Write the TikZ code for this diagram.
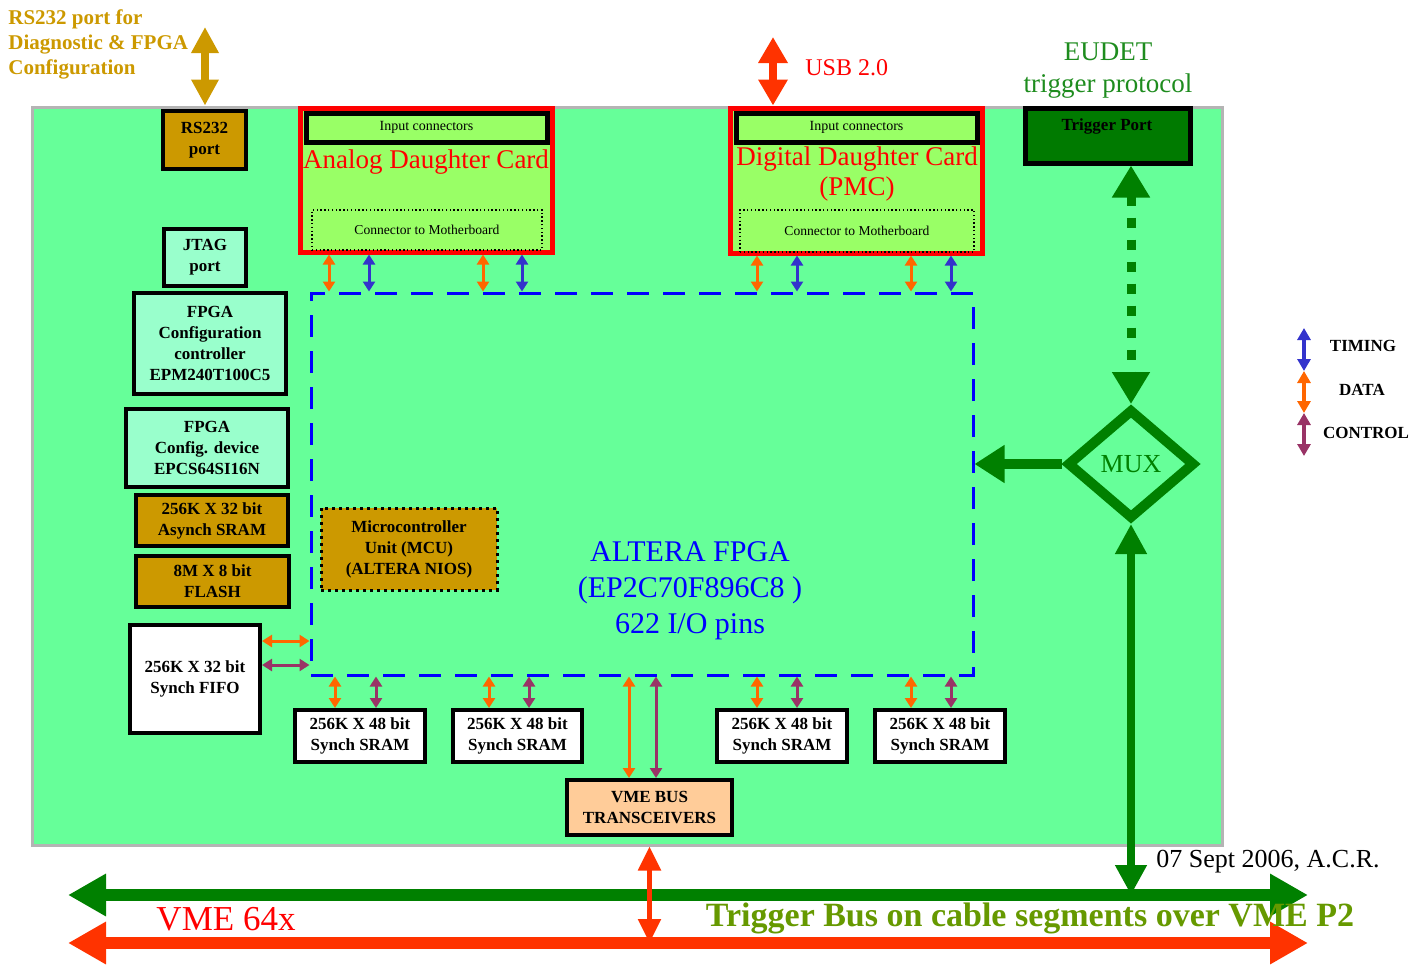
\documentclass[tikz,border=0pt]{standalone}
\usepackage{fontspec}
\setmainfont{Liberation Serif}
\usetikzlibrary{arrows.meta}
\usetikzlibrary{positioning, fit, calc}
\usetikzlibrary{shapes.geometric}

\definecolor{boardgreen}{HTML}{66FF99}
\definecolor{boardedge}{HTML}{B4B4B4}
\definecolor{cardgreen}{HTML}{99FF66}
\definecolor{aqua}{HTML}{99FFCC}
\definecolor{gold}{HTML}{CC9900}
\definecolor{peach}{HTML}{FFCC99}
\definecolor{darkgreen}{HTML}{008000}
\definecolor{trigfill}{HTML}{007A00}
\definecolor{eudetgreen}{HTML}{1E8C1E}
\definecolor{trigolive}{HTML}{669900}
\definecolor{busred}{HTML}{FF3300}
\definecolor{dataorange}{HTML}{FF6600}
\definecolor{ctrlpurple}{HTML}{993366}
\definecolor{timeblue}{HTML}{3333CC}
\definecolor{fpgablue}{HTML}{0000FF}

\begin{document}
\begin{tikzpicture}[x=0.5pt, y=-0.5pt,
    box/.style={draw=black, line width=2pt, inner sep=0pt, align=center,
      font=\bfseries\fontsize{8.5}{10.5}\selectfont},
    aquabox/.style={box, fill=aqua},
    goldbox/.style={box, fill=gold},
    whitebox/.style={box, fill=white},
    card/.style={draw=red, line width=2.5pt, fill=cardgreen, inner sep=0pt},
    inbox/.style={draw=black, line width=2.5pt, fill=cardgreen, inner sep=0pt,
      font=\fontsize{7}{8}\selectfont},
    conbox/.style={draw=black, line width=0.7pt, dash pattern=on 0.7pt off 1.2pt,
      inner sep=0pt, font=\fontsize{6.8}{8}\selectfont},
    cardtitle/.style={text=red, align=center, font=\fontsize{13.5}{15}\selectfont},
    sig/.style={line width=1.5pt,
      {Triangle[length=5pt,width=6pt]}-{Triangle[length=5pt,width=6pt]}},
    datasig/.style={sig, draw=dataorange},
    timesig/.style={sig, draw=timeblue},
    ctrlsig/.style={sig, draw=ctrlpurple},
    rsarr/.style={line width=4pt, draw=gold,
      {Triangle[length=13pt,width=13pt]}-{Triangle[length=13pt,width=13pt]}},
    usbarr/.style={line width=4pt, draw=busred,
      {Triangle[length=13pt,width=14pt]}-{Triangle[length=13pt,width=14pt]}},
    dotarr/.style={line width=4.5pt, draw=darkgreen, dash pattern=on 5pt off 6pt,
      {Triangle[length=16pt,width=18pt]}-{Triangle[length=16pt,width=18pt]}},
    muxarr/.style={line width=5pt, draw=darkgreen, -{Triangle[length=15pt,width=18pt]}},
    vertarr/.style={line width=4pt, draw=darkgreen,
      {Triangle[length=15pt,width=15pt]}-{Triangle[length=15pt,width=15pt]}},
    busarr/.style={line width=6pt,
      {Triangle[length=19pt,width=20pt]}-{Triangle[length=19pt,width=20pt]}},
    vmearr/.style={line width=2.5pt, draw=busred,
      {Triangle[length=12pt,width=11pt]}-{Triangle[length=12pt,width=11pt]}},
    legarr/.style={line width=2pt,
      {Triangle[length=6pt,width=6.5pt]}-{Triangle[length=6pt,width=6.5pt]}},
    legtxt/.style={font=\bfseries\fontsize{8.5}{10}\selectfont}]
  \useasboundingbox (0,0) rectangle (1421,965);

  % BOARD
  \node[draw=boardedge, line width=1.5pt, fill=boardgreen, inner sep=0pt,
    fit={(32,107) (1222,845)}] (board) {};

  % DAUGHTER CARDS
  \node[card, fit={(300,108) (552,252)}] (adc) {};
  \node[inbox, minimum width=120.5pt, minimum height=14.5pt] (adcin) at (426.5,127.5) {Input connectors};
  \node[cardtitle] (adctitle) at (426,162) {Analog Daughter Card};
  \node[conbox, minimum width=115pt, minimum height=20pt] (adccon) at (427,230) {Connector to Motherboard};

  \node[card, fit={(730,108) (982,253)}] (ddc) {};
  \node[inbox, minimum width=120.5pt, minimum height=14.5pt] (ddcin) at (856.5,127.5) {Input connectors};
  \node[cardtitle] (ddctitle) at (857,174) {Digital Daughter Card\\(PMC)};
  \node[conbox, minimum width=117pt, minimum height=21pt] (ddccon) at (857,231) {Connector to Motherboard};

  % LEFT COLUMN
  \node[goldbox, minimum width=41.5pt, minimum height=29pt] (rs) at (204.5,140) {RS232\\port};
  \node[aquabox, minimum width=41pt, minimum height=28.5pt] (jtag) at (205,257.5) {JTAG\\port};
  \node[aquabox, minimum width=76pt, minimum height=50.5pt] (cfgctl) at (210,343.5)
    {FPGA\\Configuration\\controller\\EPM240T100C5};
  \node[aquabox, minimum width=81pt, minimum height=39pt] (cfgdev) at (207,448)
    {FPGA\\Config. device\\EPCS64SI16N};
  \node[goldbox, minimum width=76pt, minimum height=25.5pt] (asram) at (212,520.5) {256K X 32 bit\\Asynch SRAM};
  \node[goldbox, minimum width=76.5pt, minimum height=25.5pt] (flash) at (212.5,581.5) {8M X 8 bit\\FLASH};
  \node[whitebox, minimum width=65pt, minimum height=54pt] (fifo) at (195,679) {256K X 32 bit\\Synch FIFO};

  % FPGA
  \node[draw=fpgablue, line width=1.5pt, dash pattern=on 11pt off 7pt, inner sep=0pt,
    fit={(311,293) (973,675)}] (fpga) {};
  \node[text=fpgablue, align=center, font=\fontsize{15}{18}\selectfont] (fpgatxt)
    at (690,591) {ALTERA FPGA\\(EP2C70F896C8 )\\622 I/O pins};
  \node[goldbox, line width=1.5pt, dash pattern=on 1.5pt off 2pt,
    minimum width=88pt, minimum height=41pt] (mcu) at (409,549) {Microcontroller\\Unit (MCU)\\(ALTERA NIOS)};

  % MEMORIES
  \node[whitebox, minimum width=65pt, minimum height=26pt] (sa) at (360,736) {256K X 48 bit\\Synch SRAM};
  \node[whitebox, minimum width=64.5pt, minimum height=26pt] (sb) at (517.5,736) {256K X 48 bit\\Synch SRAM};
  \node[whitebox, minimum width=65pt, minimum height=26pt] (sc) at (782,736) {256K X 48 bit\\Synch SRAM};
  \node[whitebox, minimum width=65pt, minimum height=26pt] (sd) at (940,736) {256K X 48 bit\\Synch SRAM};
  \node[box, fill=peach, minimum width=82.5pt, minimum height=27.5pt] (vme) at (649.5,807.5) {VME BUS\\TRANSCEIVERS};

  % TRIGGER
  \node[draw=black, line width=2.5pt, fill=trigfill, inner sep=0pt,
    fit={(1025,108) (1190,163)}] (trig) {};
  \node[font=\bfseries\fontsize{8.5}{10}\selectfont] (trigtxt) at (1107,126) {Trigger Port};
  \node[diamond, draw=darkgreen, line width=5pt, minimum width=64pt, minimum height=55pt,
    inner sep=0pt, text=darkgreen, font=\fontsize{13}{15}\selectfont] (mux) at (1131,464) {MUX};

  % SIGNALS
  \draw[datasig] (adc.south -| 329,0) -- (fpga.north -| 329,0);
  \draw[timesig] (adc.south -| 369,0) -- (fpga.north -| 369,0);
  \draw[datasig] (adc.south -| 483,0) -- (fpga.north -| 483,0);
  \draw[timesig] (adc.south -| 522,0) -- (fpga.north -| 522,0);
  \draw[datasig] (ddc.south -| 757,0) -- (fpga.north -| 757,0);
  \draw[timesig] (ddc.south -| 797,0) -- (fpga.north -| 797,0);
  \draw[datasig] (ddc.south -| 911,0) -- (fpga.north -| 911,0);
  \draw[timesig] (ddc.south -| 951,0) -- (fpga.north -| 951,0);

  \draw[datasig] (fifo.east |- 0,641) -- (fpga.west |- 0,641);
  \draw[ctrlsig] (fifo.east |- 0,665) -- (fpga.west |- 0,665);

  \draw[datasig] (fpga.south -| 335,0) -- (sa.north -| 335,0);
  \draw[ctrlsig] (fpga.south -| 376,0) -- (sa.north -| 376,0);
  \draw[datasig] (fpga.south -| 489,0) -- (sb.north -| 489,0);
  \draw[ctrlsig] (fpga.south -| 529,0) -- (sb.north -| 529,0);
  \draw[datasig] (fpga.south -| 757,0) -- (sc.north -| 757,0);
  \draw[ctrlsig] (fpga.south -| 797,0) -- (sc.north -| 797,0);
  \draw[datasig] (fpga.south -| 911,0) -- (sd.north -| 911,0);
  \draw[ctrlsig] (fpga.south -| 951,0) -- (sd.north -| 951,0);
  \draw[datasig] (fpga.south -| 629,0) -- (vme.north -| 629,0);
  \draw[ctrlsig] (fpga.south -| 656,0) -- (vme.north -| 656,0);

  % OUTSIDE LINKS
  \coordinate (rsend) at (205,27);
  \coordinate (usbend) at (773,37);
  \draw[rsarr] (rsend) -- (rsend |- board.north);
  \draw[usbarr] (usbend) -- (usbend |- board.north);
  \draw[dotarr] (mux.north |- trig.south) -- (mux.north);
  \draw[muxarr] (mux.west) -- (mux.west -| fpga.east);

  % BUSES
  \coordinate (tbL) at (68,895);
  \coordinate (tbR) at (1308,895);
  \coordinate (vbL) at (68,943);
  \coordinate (vbR) at (1308,943);
  \draw[busarr, draw=darkgreen] (tbL) -- (tbR);
  \draw[busarr, draw=busred] (vbL) -- (vbR);
  \draw[vertarr] (mux.south) -- (mux.south |- tbR);
  \draw[vmearr] (board.south -| vme) -- (vme |- vbR);

  % TEXTS
  \node[anchor=west, align=left, inner sep=0pt, text=gold, font=\bfseries\fontsize{10.5}{12.5}\selectfont]
    (rstxt) at (8,44) {RS232 port for\\Diagnostic \& FPGA\\Configuration};
  \node[anchor=west, inner sep=0pt, text=red, font=\fontsize{12}{14}\selectfont] (usbtxt) at (805,68) {USB 2.0};
  \node[align=center, text=eudetgreen, font=\fontsize{13.5}{16}\selectfont] (eudet)
    at (1108,71) {EUDET\\trigger protocol};
  \node[font=\fontsize{13}{15}\selectfont] (date) at (1268,862) {07 Sept 2006, A.C.R.};
  \node[text=red, font=\fontsize{17.5}{20}\selectfont] (vmetxt) at (226,919) {VME 64x};
  \node[text=trigolive, font=\bfseries\fontsize{17}{20}\selectfont] (tbtxt)
    at (1030,918) {Trigger Bus on cable segments over VME P2};

  % LEGEND
  \coordinate (lg0) at (1304,328);
  \coordinate (lg1) at (1304,371);
  \coordinate (lg2) at (1304,413);
  \coordinate (lg3) at (1304,456);
  \draw[legarr, draw=timeblue] (lg0) -- (lg1);
  \draw[legarr, draw=dataorange] (lg1) -- (lg2);
  \draw[legarr, draw=ctrlpurple] (lg2) -- (lg3);
  \node[legtxt] (lgtime) at (1363,346) {TIMING};
  \node[legtxt] (lgdata) at (1362,390) {DATA};
  \node[legtxt] (lgctrl) at (1366,433) {CONTROL};
\end{tikzpicture}
\end{document}
